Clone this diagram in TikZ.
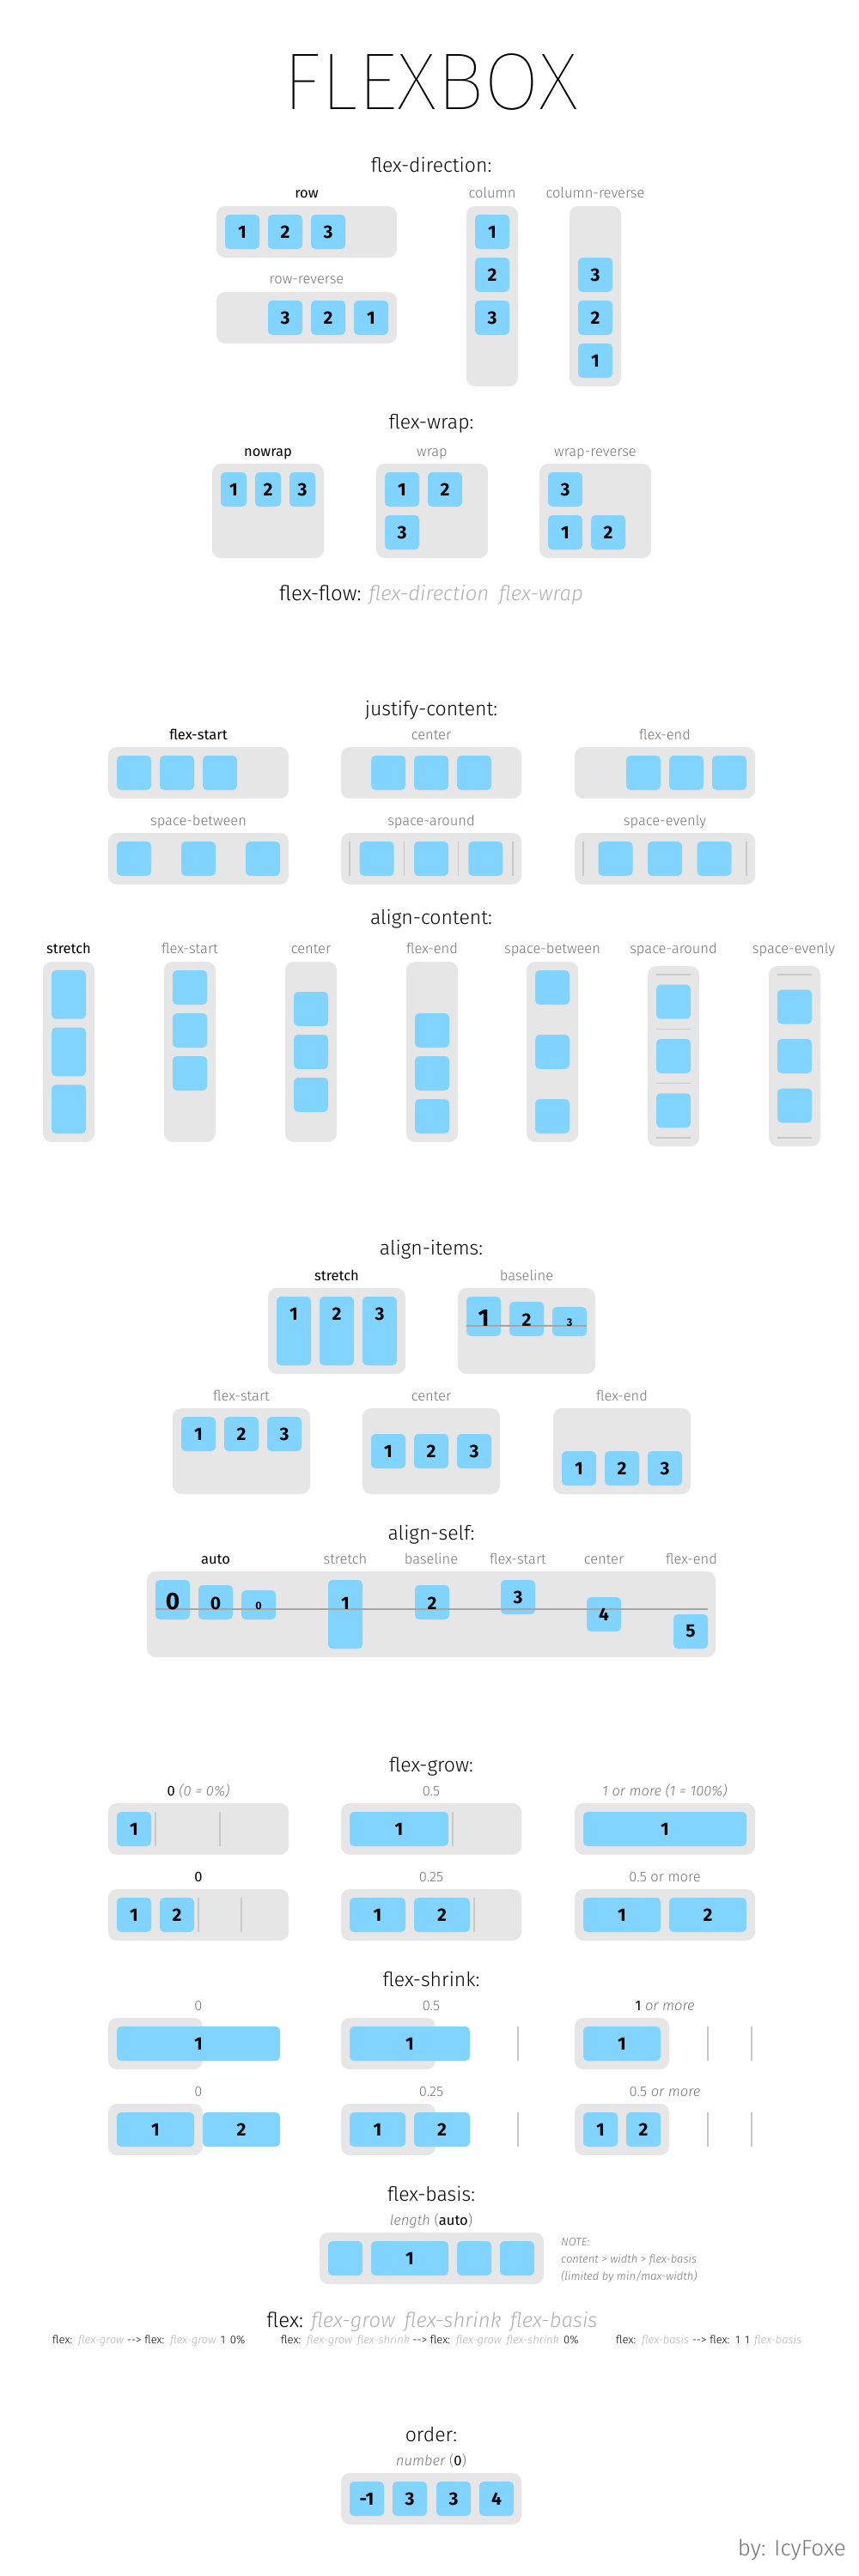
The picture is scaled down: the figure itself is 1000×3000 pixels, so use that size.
\documentclass[tikz,border=0pt]{standalone}
\usepackage{fontspec}
\setmainfont{Fira Sans}[UprightFont=* Light, ItalicFont=* Light Italic, BoldFont=* Medium]
\newfontfamily\titlefont{Fira Sans}[UprightFont=* Thin]
\newfontfamily\numfont{Fira Sans}[UprightFont=* Bold]
\newfontfamily\regfont{Fira Sans}
\definecolor{boxgray}{RGB}{230,230,230}
\definecolor{itemblue}{RGB}{128,212,255}
\definecolor{sepgray}{RGB}{200,200,200}
\definecolor{basegray}{RGB}{165,165,165}
\definecolor{labelgray}{RGB}{115,115,115}
\definecolor{softgray}{RGB}{175,175,175}
\tikzset{
  box/.style={fill=boxgray, rounded corners=10pt},
  item/.style={fill=itemblue, rounded corners=5pt, minimum width=40pt, minimum height=40pt, inner sep=0pt, font=\numfont\fontsize{21}{21}\selectfont},
  num/.style={inner sep=0pt, font=\numfont\fontsize{21}{21}\selectfont},
  heading/.style={anchor=base, inner sep=0pt, font=\fontsize{23}{23}\selectfont},
  lbl/.style={anchor=base, inner sep=0pt, text=labelgray, font=\fontsize{16.5}{16.5}\selectfont},
  lblon/.style={lbl, text=black, font=\regfont\fontsize{16.5}{16.5}\selectfont},
  sepline/.style={draw=sepgray, line width=1.5pt},
  baseln/.style={draw=basegray, line width=1.5pt},
  note/.style={anchor=base west, inner sep=0pt, text=labelgray, font=\itshape\fontsize{13}{13}\selectfont},
  small/.style={anchor=base west, inner sep=0pt, font=\fontsize{13}{13}\selectfont}
}
\begin{document}
\begin{tikzpicture}[x=1pt,y=-1pt]
	\useasboundingbox (0,0) rectangle (1000,3000);
	
	% Text Node
	\node[anchor=base, inner sep=0pt, font=\titlefont\fontsize{94}{94}\selectfont] (title) at (501,128) {FLEXBOX};
	
	%% flex-direction
	\node[heading] (hdir) at (502,200) {flex-direction:};
	%Shape: Rounded Rect
	\fill[box] (252,240) rectangle (462,300);
	\node[item] (r1) at (282,270) {1};
	\node[item] (r2) at (332,270) {2};
	\node[item] (r3) at (382,270) {3};
	%Shape: Rounded Rect
	\fill[box] (252,340) rectangle (462,400);
	\node[item] (rr3) at (332,370) {3};
	\node[item] (rr2) at (382,370) {2};
	\node[item] (rr1) at (432,370) {1};
	%Shape: Rounded Rect
	\fill[box] (543,240) rectangle (603,450);
	\node[item] (c1) at (573,270) {1};
	\node[item] (c2) at (573,320) {2};
	\node[item] (c3) at (573,370) {3};
	%Shape: Rounded Rect
	\fill[box] (663,240) rectangle (723,450);
	\node[item] (cr3) at (693,320) {3};
	\node[item] (cr2) at (693,370) {2};
	\node[item] (cr1) at (693,420) {1};
	% Text Node
	\node[lblon] (lrow) at (357,230) {row};
	\node[lbl] (lrowrev) at (357,330) {row-reverse};
	\node[lbl] (lcol) at (573,230) {column};
	\node[lbl] (lcolrev) at (693,230) {column-reverse};
	
	%% flex-wrap
	\node[heading] (hwrap) at (502,499) {flex-wrap:};
	%Shape: Rounded Rect
	\fill[box] (247,540) rectangle (377,650);
	\node[item, minimum width=30pt] (nw1) at (272,570) {1};
	\node[item, minimum width=30pt] (nw2) at (312,570) {2};
	\node[item, minimum width=30pt] (nw3) at (352,570) {3};
	%Shape: Rounded Rect
	\fill[box] (438,540) rectangle (568,650);
	\node[item] (w1) at (468,570) {1};
	\node[item] (w2) at (518,570) {2};
	\node[item] (w3) at (468,620) {3};
	%Shape: Rounded Rect
	\fill[box] (628,540) rectangle (758,650);
	\node[item] (wr3) at (658,570) {3};
	\node[item] (wr1) at (658,620) {1};
	\node[item] (wr2) at (708,620) {2};
	% Text Node
	\node[lblon] (lnowrap) at (312,531) {nowrap};
	\node[lbl] (lwrap) at (503,531) {wrap};
	\node[lbl] (lwraprev) at (693,531) {wrap-reverse};
	
	% Text Node
	\node[heading, font=\fontsize{24}{24}\selectfont] (hflow) at (502,699) {flex-flow: \textcolor{softgray}{\itshape flex-direction\hspace{5pt} flex-wrap}};
	
	%% justify-content
	\node[heading] (hjust) at (502,833) {justify-content:};
	%Shape: Rounded Rect
	\fill[box] (126,870) rectangle (336,930);
	\node[item] (jfs1) at (156,900) {};
	\node[item] (jfs2) at (206,900) {};
	\node[item] (jfs3) at (256,900) {};
	%Shape: Rounded Rect
	\fill[box] (397,870) rectangle (607,930);
	\node[item] (jc1) at (452,900) {};
	\node[item] (jc2) at (502,900) {};
	\node[item] (jc3) at (552,900) {};
	%Shape: Rounded Rect
	\fill[box] (669,870) rectangle (879,930);
	\node[item] (jfe1) at (749,900) {};
	\node[item] (jfe2) at (799,900) {};
	\node[item] (jfe3) at (849,900) {};
	%Shape: Rounded Rect
	\fill[box] (126,970) rectangle (336,1030);
	\node[item] (jsb1) at (156,1000) {};
	\node[item] (jsb2) at (231,1000) {};
	\node[item] (jsb3) at (306,1000) {};
	%Shape: Rounded Rect
	\fill[box] (397,970) rectangle (607,1030);
	\draw[sepline] (407,980) -- (407,1020);
	\draw[sepline] (470.3,980) -- (470.3,1020);
	\draw[sepline] (533.7,980) -- (533.7,1020);
	\draw[sepline] (597,980) -- (597,1020);
	\node[item] (jsa1) at (438.7,1000) {};
	\node[item] (jsa2) at (502,1000) {};
	\node[item] (jsa3) at (565.3,1000) {};
	%Shape: Rounded Rect
	\fill[box] (669,970) rectangle (879,1030);
	\draw[sepline] (679,980) -- (679,1020);
	\draw[sepline] (869,980) -- (869,1020);
	\node[item] (jse1) at (716.5,1000) {};
	\node[item] (jse2) at (774,1000) {};
	\node[item] (jse3) at (831.5,1000) {};
	% Text Node
	\node[lblon] (ljfs) at (231,861) {flex-start};
	\node[lbl] (ljc) at (502,861) {center};
	\node[lbl] (ljfe) at (774,861) {flex-end};
	\node[lbl] (ljsb) at (231,961) {space-between};
	\node[lbl] (ljsa) at (502,961) {space-around};
	\node[lbl] (ljse) at (774,961) {space-evenly};
	
	%% align-content
	\node[heading] (hacont) at (502,1076) {align-content:};
	%Shape: Rounded Rect
	\fill[box] (50,1120) rectangle (110,1330);
	\node[item, minimum height=56.7pt] (acs1) at (80,1158.3) {};
	\node[item, minimum height=56.7pt] (acs2) at (80,1225) {};
	\node[item, minimum height=56.7pt] (acs3) at (80,1291.7) {};
	%Shape: Rounded Rect
	\fill[box] (191,1120) rectangle (251,1330);
	\node[item] (acfs1) at (221,1150) {};
	\node[item] (acfs2) at (221,1200) {};
	\node[item] (acfs3) at (221,1250) {};
	%Shape: Rounded Rect
	\fill[box] (332,1120) rectangle (392,1330);
	\node[item] (acc1) at (362,1175) {};
	\node[item] (acc2) at (362,1225) {};
	\node[item] (acc3) at (362,1275) {};
	%Shape: Rounded Rect
	\fill[box] (473,1120) rectangle (533,1330);
	\node[item] (acfe1) at (503,1200) {};
	\node[item] (acfe2) at (503,1250) {};
	\node[item] (acfe3) at (503,1300) {};
	%Shape: Rounded Rect
	\fill[box] (613,1120) rectangle (673,1330);
	\node[item] (acsb1) at (643,1150) {};
	\node[item] (acsb2) at (643,1225) {};
	\node[item] (acsb3) at (643,1300) {};
	%Shape: Rounded Rect
	\fill[box] (754,1125) rectangle (814,1335);
	\draw[sepline] (764,1135) -- (804,1135);
	\draw[sepline] (764,1198.3) -- (804,1198.3);
	\draw[sepline] (764,1261.7) -- (804,1261.7);
	\draw[sepline] (764,1325) -- (804,1325);
	\node[item] (acsa1) at (784,1166.7) {};
	\node[item] (acsa2) at (784,1230) {};
	\node[item] (acsa3) at (784,1293.3) {};
	%Shape: Rounded Rect
	\fill[box] (895,1125) rectangle (955,1335);
	\draw[sepline] (905,1135) -- (945,1135);
	\draw[sepline] (905,1325) -- (945,1325);
	\node[item] (acse1) at (925,1172.5) {};
	\node[item] (acse2) at (925,1230) {};
	\node[item] (acse3) at (925,1287.5) {};
	% Text Node
	\node[lblon] (lacs) at (80,1110) {stretch};
	\node[lbl] (lacfs) at (221,1110) {flex-start};
	\node[lbl] (lacc) at (362,1110) {center};
	\node[lbl] (lacfe) at (503,1110) {flex-end};
	\node[lbl] (lacsb) at (643,1110) {space-between};
	\node[lbl] (lacsa) at (784,1110) {space-around};
	\node[lbl] (lacse) at (924,1110) {space-evenly};
	
	%% align-items
	\node[heading] (hitems) at (502,1461) {align-items:};
	%Shape: Rounded Rect
	\fill[box] (312,1500) rectangle (472,1600);
	\node[item, minimum height=80pt] (ais1) at (342,1550) {};
	\node[item, minimum height=80pt] (ais2) at (392,1550) {};
	\node[item, minimum height=80pt] (ais3) at (442,1550) {};
	\node[num] (ais1n) at (342,1530) {1};
	\node[num] (ais2n) at (392,1530) {2};
	\node[num] (ais3n) at (442,1530) {3};
	%Shape: Rounded Rect
	\fill[box] (533,1500) rectangle (693,1600);
	\node[item, minimum height=46pt] (aib1) at (563,1533) {};
	\node[item, minimum height=40pt] (aib2) at (613,1536) {};
	\node[item, minimum height=34pt] (aib3) at (663,1539) {};
	\draw[baseln] (543,1544) -- (683,1544);
	\node[num, anchor=base, font=\numfont\fontsize{28}{28}\selectfont] (aib1n) at (563,1544) {1};
	\node[num, anchor=base] (aib2n) at (613,1544) {2};
	\node[num, anchor=base, font=\numfont\fontsize{12.5}{12.5}\selectfont] (aib3n) at (663,1544) {3};
	%Shape: Rounded Rect
	\fill[box] (201,1640) rectangle (361,1740);
	\node[item] (aifs1) at (231,1670) {1};
	\node[item] (aifs2) at (281,1670) {2};
	\node[item] (aifs3) at (331,1670) {3};
	%Shape: Rounded Rect
	\fill[box] (422,1640) rectangle (582,1740);
	\node[item] (aic1) at (452,1690) {1};
	\node[item] (aic2) at (502,1690) {2};
	\node[item] (aic3) at (552,1690) {3};
	%Shape: Rounded Rect
	\fill[box] (644,1640) rectangle (804,1740);
	\node[item] (aife1) at (674,1710) {1};
	\node[item] (aife2) at (724,1710) {2};
	\node[item] (aife3) at (774,1710) {3};
	% Text Node
	\node[lblon] (lais) at (392,1491) {stretch};
	\node[lbl] (laib) at (613,1491) {baseline};
	\node[lbl] (laifs) at (281,1631) {flex-start};
	\node[lbl] (laic) at (502,1631) {center};
	\node[lbl] (laife) at (724,1631) {flex-end};
	
	%% align-self
	\node[heading] (hself) at (502,1793) {align-self:};
	%Shape: Rounded Rect
	\fill[box] (171,1830) rectangle (833,1930);
	\node[item, minimum height=46pt] (asa1) at (201,1863) {};
	\node[item, minimum height=40pt] (asa2) at (251,1866) {};
	\node[item, minimum height=34pt] (asa3) at (301,1869) {};
	\node[item, minimum height=80pt] (ass) at (402,1880) {};
	\node[item] (asb) at (503,1866) {};
	\node[item] (asfs) at (603,1860) {};
	\node[item] (asc) at (703,1880) {};
	\node[item] (asfe) at (804,1900) {};
	\draw[baseln] (181,1874) -- (824,1874);
	\node[num, anchor=base, font=\numfont\fontsize{28}{28}\selectfont] (asa1n) at (201,1874) {0};
	\node[num, anchor=base] (asa2n) at (251,1874) {0};
	\node[num, anchor=base, font=\numfont\fontsize{12.5}{12.5}\selectfont] (asa3n) at (301,1874) {0};
	\node[num, anchor=base] (assn) at (402,1874) {1};
	\node[num, anchor=base] (asbn) at (503,1874) {2};
	\node[num] (asfsn) at (603,1860) {3};
	\node[num] (ascn) at (703,1880) {4};
	\node[num] (asfen) at (804,1900) {5};
	% Text Node
	\node[lblon] (lasa) at (251,1821) {auto};
	\node[lbl] (lass) at (402,1821) {stretch};
	\node[lbl] (lasb) at (502,1821) {baseline};
	\node[lbl] (lasfs) at (603,1821) {flex-start};
	\node[lbl] (lasc) at (703,1821) {center};
	\node[lbl] (lasfe) at (805,1821) {flex-end};
	
	%% flex-grow
	\node[heading] (hgrow) at (502,2063) {flex-grow:};
	%Shape: Rounded Rect
	\fill[box] (126,2100) rectangle (336,2160);
	\draw[sepline] (181,2110) -- (181,2150);
	\draw[sepline] (256,2110) -- (256,2150);
	\node[item] (g0) at (156,2130) {1};
	%Shape: Rounded Rect
	\fill[box] (397,2100) rectangle (607,2160);
	\draw[sepline] (527,2110) -- (527,2150);
	\node[item, minimum width=115pt] (g05) at (464.5,2130) {1};
	%Shape: Rounded Rect
	\fill[box] (669,2100) rectangle (879,2160);
	\node[item, minimum width=190pt] (g1) at (774,2130) {1};
	%Shape: Rounded Rect
	\fill[box] (126,2200) rectangle (336,2260);
	\draw[sepline] (231,2210) -- (231,2250);
	\draw[sepline] (281,2210) -- (281,2250);
	\node[item] (gg01) at (156,2230) {1};
	\node[item] (gg02) at (206,2230) {2};
	%Shape: Rounded Rect
	\fill[box] (397,2200) rectangle (607,2260);
	\draw[sepline] (552,2210) -- (552,2250);
	\node[item, minimum width=65pt] (gg251) at (439.5,2230) {1};
	\node[item, minimum width=65pt] (gg252) at (514.5,2230) {2};
	%Shape: Rounded Rect
	\fill[box] (669,2200) rectangle (879,2260);
	\node[item, minimum width=90pt] (gg51) at (724,2230) {1};
	\node[item, minimum width=90pt] (gg52) at (824,2230) {2};
	% Text Node
	\node[lbl] (lg0) at (231,2091) {{\regfont\color{black}0} \textit{(0 = 0\%)}};
	\node[lbl] (lg05) at (502,2091) {0.5};
	\node[lbl] (lg1) at (774,2091) {\textit{1 or more (1 = 100\%)}};
	\node[lblon] (lgg0) at (231,2191) {0};
	\node[lbl] (lgg25) at (502,2191) {0.25};
	\node[lbl] (lgg5) at (774,2191) {0.5 or more};
	
	%% flex-shrink
	\node[heading] (hshrink) at (502,2313) {flex-shrink:};
	%Shape: Rounded Rect
	\fill[box] (126,2350) rectangle (236,2410);
	\node[item, minimum width=190pt] (s0) at (231,2380) {1};
	%Shape: Rounded Rect
	\fill[box] (397,2350) rectangle (507,2410);
	\node[item, minimum width=140pt] (s05) at (477,2380) {1};
	\draw[sepline] (603,2360) -- (603,2400);
	%Shape: Rounded Rect
	\fill[box] (669,2350) rectangle (779,2410);
	\node[item, minimum width=90pt] (s1) at (724,2380) {1};
	\draw[sepline] (824,2360) -- (824,2400);
	\draw[sepline] (875,2360) -- (875,2400);
	%Shape: Rounded Rect
	\fill[box] (126,2450) rectangle (236,2510);
	\node[item, minimum width=90pt] (ss01) at (181,2480) {1};
	\node[item, minimum width=90pt] (ss02) at (281,2480) {2};
	%Shape: Rounded Rect
	\fill[box] (397,2450) rectangle (507,2510);
	\node[item, minimum width=65pt] (ss251) at (439.5,2480) {1};
	\node[item, minimum width=65pt] (ss252) at (514.5,2480) {2};
	\draw[sepline] (603,2460) -- (603,2500);
	%Shape: Rounded Rect
	\fill[box] (669,2450) rectangle (779,2510);
	\node[item] (ss51) at (699,2480) {1};
	\node[item] (ss52) at (749,2480) {2};
	\draw[sepline] (824,2460) -- (824,2500);
	\draw[sepline] (875,2460) -- (875,2500);
	% Text Node
	\node[lbl] (ls0) at (231,2341) {0};
	\node[lbl] (ls05) at (502,2341) {0.5};
	\node[lbl] (ls1) at (774,2341) {{\regfont\color{black}1} \textit{or more}};
	\node[lbl] (lss0) at (231,2441) {0};
	\node[lbl] (lss25) at (502,2441) {0.25};
	\node[lbl] (lss5) at (774,2441) {0.5 \textit{or more}};
	
	%% flex-basis
	\node[heading] (hbasis) at (502,2563) {flex-basis:};
	\node[lbl] (lbasis) at (502,2591) {\textit{length} ({\regfont\color{black}auto})};
	%Shape: Rounded Rect
	\fill[box] (372,2600) rectangle (633,2660);
	\node[item] (fb1) at (402,2630) {};
	\node[item, minimum width=90pt] (fb2) at (477,2630) {1};
	\node[item] (fb3) at (552,2630) {};
	\node[item] (fb4) at (602,2630) {};
	% Text Node
	\node[note] (note1) at (653,2615) {NOTE:};
	\node[note] (note2) at (653,2635) {content > width > flex-basis};
	\node[note] (note3) at (653,2655) {(limited by min/max-width)};
	
	%% flex
	\node[heading, font=\fontsize{24}{24}\selectfont] (hflex) at (503,2710) {flex: \textcolor{softgray}{\itshape flex-grow\hspace{4pt} flex-shrink\hspace{4pt} flex-basis}};
	\node[small] (fx1) at (61,2729) {flex:\hspace{2pt} \textcolor{softgray}{\itshape flex-grow} {-}{-}> flex:\hspace{2pt} \textcolor{softgray}{\itshape flex-grow}\hspace{2pt} 1\hspace{2pt} 0\%};
	\node[small] (fx2) at (327,2729) {flex:\hspace{2pt} \textcolor{softgray}{\itshape flex-grow\hspace{2pt} flex-shrink} {-}{-}> flex:\hspace{2pt} \textcolor{softgray}{\itshape flex-grow\hspace{2pt} flex-shrink}\hspace{2pt} 0\%};
	\node[small] (fx3) at (717,2729) {flex:\hspace{2pt} \textcolor{softgray}{\itshape flex-basis} {-}{-}> flex:\hspace{2pt} 1\hspace{2pt} 1\hspace{2pt} \textcolor{softgray}{\itshape flex-basis}};
	
	%% order
	\node[heading] (horder) at (502,2843) {order:};
	\node[lbl] (lorder) at (502,2871) {\textit{number} ({\regfont\color{black}0})};
	%Shape: Rounded Rect
	\fill[box] (397,2880) rectangle (607,2940);
	\node[item] (o1) at (427,2910) {-1};
	\node[item] (o2) at (477,2910) {3};
	\node[item] (o3) at (528,2910) {3};
	\node[item] (o4) at (578,2910) {4};
	
	% Text Node
	\node[anchor=base east, inner sep=0pt, text=labelgray, font=\fontsize{26}{26}\selectfont] (credit) at (985,2976) {by: IcyFoxe};
	
\end{tikzpicture}
\end{document}
